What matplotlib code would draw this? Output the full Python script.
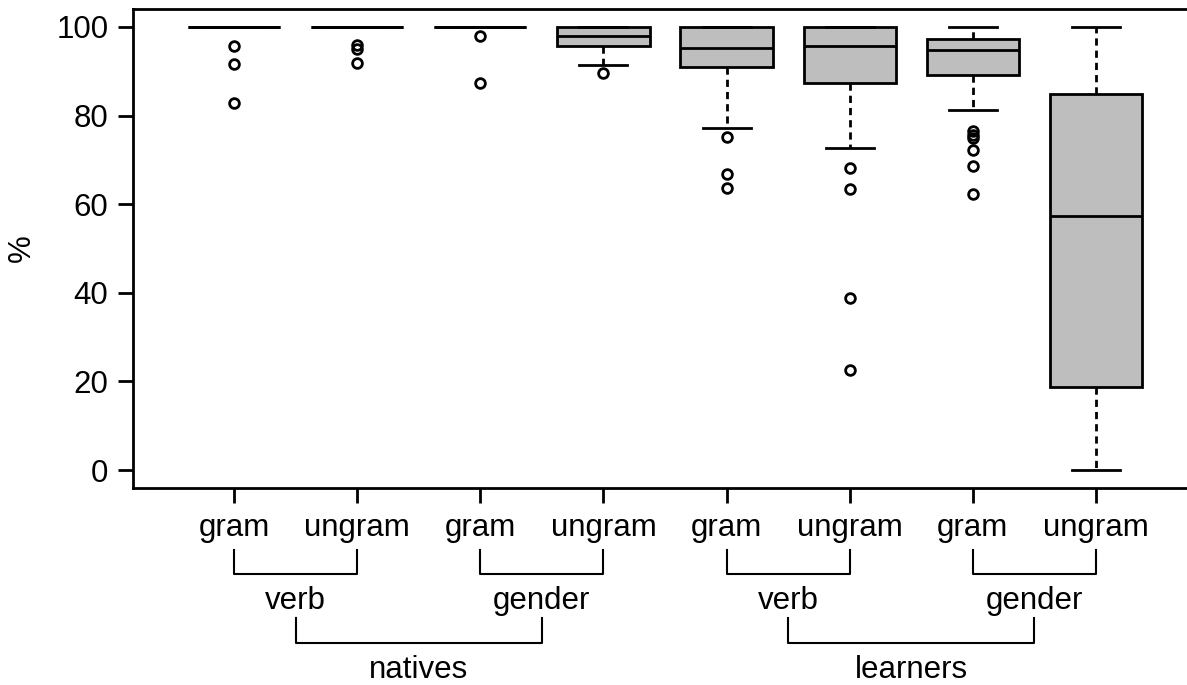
import matplotlib
matplotlib.use('Agg')
import matplotlib.pyplot as plt
import matplotlib.transforms as mtransforms

plt.rcParams['font.family'] = ['Liberation Sans', 'DejaVu Sans']

# Data (percent correct)
conditions = ['gram', 'ungram', 'gram', 'ungram', 'gram', 'ungram', 'gram', 'ungram']
phenomena = ['verb', 'gender', 'verb', 'gender']
groups = ['natives', 'learners']

q1 = [100, 100, 100, 95.7, 91.0, 87.4, 89.2, 18.7]
medians = [100, 100, 100, 98.0, 95.3, 95.8, 94.7, 57.4]
q3 = [100, 100, 100, 100, 100, 100, 97.4, 84.9]
whislo = [100, 100, 100, 91.4, 77.3, 72.6, 81.3, 0]
whishi = [100, 100, 100, 100, 100, 100, 100, 100]
fliers = [
    [95.8, 91.7, 82.8],
    [96.0, 95.0, 91.8],
    [98.0, 87.4],
    [89.7],
    [75.1, 66.8, 63.6],
    [68.2, 63.4, 38.9, 22.6],
    [76.6, 75.6, 74.9, 72.2, 68.7, 62.4],
    [],
]
yticks = [0, 20, 40, 60, 80, 100]

W, H = 1187, 685
fig = plt.figure(figsize=(W / 100, H / 100), dpi=100)
ax = fig.add_axes([133 / W, 1 - 488 / H, (1197 - 133) / W, (488 - 9) / H])

stats = []
for i in range(len(conditions)):
    stats.append(dict(med=medians[i], q1=q1[i], q3=q3[i],
                      whislo=whislo[i], whishi=whishi[i], fliers=fliers[i]))

positions = list(range(1, len(conditions) + 1))
ax.bxp(stats, positions=positions, widths=0.75, capwidths=0.39,
       patch_artist=True,
       boxprops=dict(facecolor='#bebebe', edgecolor='black', linewidth=2),
       medianprops=dict(color='black', linewidth=2),
       whiskerprops=dict(color='black', linewidth=2, linestyle=(0, (2.6, 1.8))),
       capprops=dict(color='black', linewidth=2),
       flierprops=dict(marker='o', markerfacecolor='none', markeredgecolor='black',
                       markersize=7, markeredgewidth=2))

ax.set_xlim(0.18, 8.82)
ax.set_ylim(-4.06, 104.06)
ax.set_yticks(yticks)
ax.tick_params(axis='y', length=10.8, width=2, pad=7, labelsize=22.5)
ax.set_xticks(positions)
ax.set_xticklabels(conditions)
ax.tick_params(axis='x', length=10.8, width=2, pad=24, labelsize=22.5)
plt.setp(ax.get_xticklabels(), va='baseline')
for sp in ax.spines.values():
    sp.set_linewidth(2)

fig.text(22 / W, 1 - 248 / H, '%', rotation=90, ha='center', va='center', fontsize=22.5)

# nested group brackets under the axis
trans = mtransforms.blended_transform_factory(ax.transData, fig.transFigure)

def fy(py):
    return 1 - py / H

mids = []
for k, name in enumerate(phenomena):
    x0, x1 = positions[2 * k], positions[2 * k + 1]
    ax.plot([x0, x0, x1, x1], [fy(550), fy(574), fy(574), fy(550)], color='black',
            lw=1.5, transform=trans, clip_on=False)
    m = (x0 + x1) / 2
    mids.append(m)
    ax.text(m, fy(609), name, transform=trans, ha='center', va='baseline', fontsize=22.5)

for k, name in enumerate(groups):
    x0, x1 = mids[2 * k], mids[2 * k + 1]
    ax.plot([x0, x0, x1, x1], [fy(618), fy(643), fy(643), fy(618)], color='black',
            lw=1.5, transform=trans, clip_on=False)
    ax.text((x0 + x1) / 2, fy(678), name, transform=trans, ha='center', va='baseline',
            fontsize=22.5)

fig.savefig('out.png', dpi=100)
